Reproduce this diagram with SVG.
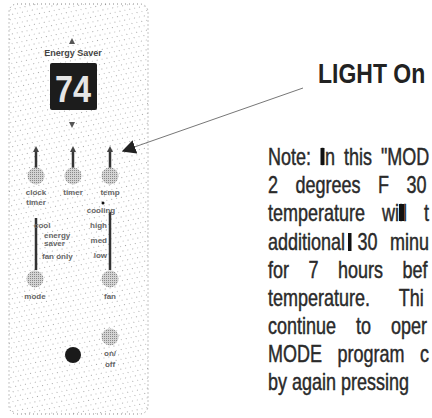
<svg xmlns="http://www.w3.org/2000/svg" width="432" height="418" viewBox="0 0 432 418">
<defs>
<pattern id="stip" width="8" height="6" patternUnits="userSpaceOnUse" patternTransform="rotate(25)">
<rect x="1" y="1" width="1" height="1" fill="#a8a8a8"/>
<rect x="5" y="4" width="1" height="1" fill="#c0c0c0"/>
</pattern>
<pattern id="btn" width="2" height="2" patternUnits="userSpaceOnUse">
<rect width="2" height="2" fill="#d4d4d4"/>
<rect width="1" height="1" fill="#8a8a8a"/>
</pattern>
<marker id="ah" viewBox="0 0 10 10" refX="9" refY="5" markerWidth="14" markerHeight="14" markerUnits="userSpaceOnUse" orient="auto">
<path d="M0,0 L10,5 L0,10 z" fill="#222"/>
</marker>
</defs>
<style>
.lbl{font-family:"Liberation Sans",Arial,sans-serif;font-weight:bold;font-size:8px;fill:#666;text-anchor:middle}
.stem{stroke:#333;stroke-width:2.5}
.btn{fill:url(#btn)}
.note{font-family:"Liberation Sans",Arial,sans-serif;font-size:18px;fill:#2a2a2a;stroke:#2a2a2a;stroke-width:0.35}
.bar{fill:#111}
</style>
<rect width="432" height="418" fill="#fff"/>
<g id="panel">
<rect x="9" y="4" width="139" height="410" rx="8" fill="url(#stip)" stroke="#888" stroke-width="1" stroke-dasharray="1 3"/>
<path d="M69,44 L72,38 L75,44 z" fill="#555"/>
<text class="lbl" x="73" y="56" style="font-size:9px;fill:#444">Energy Saver</text>
<rect x="50" y="63" width="47" height="47" rx="2" fill="#1c1c1c"/>
<text x="73" y="102" text-anchor="middle" font-family="Liberation Sans,Arial,sans-serif" font-weight="bold" font-size="36" fill="#e6e6e6" textLength="36" lengthAdjust="spacingAndGlyphs">74</text>
<path d="M69,122 L72,128 L75,122 z" fill="#555"/>
</g>
<g id="btn-clock">
<line class="stem" x1="36" y1="152" x2="36" y2="168"/>
<path d="M33,152 L36,146 L39,152 z" fill="#444"/>
<circle class="btn" cx="36" cy="176" r="8.5"/>
<text class="lbl" x="36" y="195">clock</text>
<text class="lbl" x="36" y="205">timer</text>
</g>
<g id="btn-timer">
<line class="stem" x1="73" y1="152" x2="73" y2="168"/>
<path d="M70,152 L73,146 L76,152 z" fill="#444"/>
<circle class="btn" cx="73" cy="176" r="8.5"/>
<text class="lbl" x="73" y="195">timer</text>
</g>
<g id="btn-temp">
<line class="stem" x1="110" y1="152" x2="110" y2="168"/>
<path d="M107,152 L110,146 L113,152 z" fill="#444"/>
<circle class="btn" cx="110" cy="176" r="8.5"/>
<text class="lbl" x="110" y="195">temp</text>
</g>
<g id="btn-mode">
<line class="stem" x1="36" y1="218" x2="36" y2="270"/>
<circle cx="103" cy="203" r="1.5" fill="#111"/>
<text class="lbl" x="34" y="228" style="text-anchor:start">cool</text>
<text class="lbl" x="44" y="238" style="text-anchor:start">energy</text>
<text class="lbl" x="44" y="246" style="text-anchor:start">saver</text>
<text class="lbl" x="42" y="259" style="text-anchor:start">fan only</text>
<circle class="btn" cx="35" cy="279" r="8.5"/>
<text class="lbl" x="35" y="299">mode</text>
</g>
<g id="btn-fan">
<line class="stem" x1="110" y1="212" x2="110" y2="270"/>
<text class="lbl" x="101" y="213">cooling</text>
<text class="lbl" x="107" y="228" style="text-anchor:end">high</text>
<text class="lbl" x="107" y="243" style="text-anchor:end">med</text>
<text class="lbl" x="107" y="258" style="text-anchor:end">low</text>
<circle class="btn" cx="110" cy="279" r="8.5"/>
<text class="lbl" x="110" y="299">fan</text>
</g>
<g id="btn-onoff">
<circle cx="73" cy="355" r="8" fill="#1a1a1a"/>
<circle class="btn" cx="110" cy="337" r="8.5"/>
<text class="lbl" x="110" y="356">on/</text>
<text class="lbl" x="110" y="367">off</text>
</g>
<g id="connectors">
<line x1="303" y1="88" x2="123" y2="151" stroke="#777" stroke-width="1" marker-end="url(#ah)"/>
</g>
<g id="callout">
<text transform="translate(318,83) scale(1,1.2)" font-family="Liberation Sans,Arial,sans-serif" font-weight="bold" font-size="23" fill="#222">LIGHT On</text>
</g>
<g id="note">
<text class="note" transform="translate(268,165) scale(1,1.3)" word-spacing="4">Note: In this "MOD</text>
<rect class="bar" x="320.5" y="148" width="4" height="17"/>
<text class="note" transform="translate(268,193) scale(1,1.3)" word-spacing="12.5">2 degrees F 30</text>
<text class="note" transform="translate(268,221) scale(1,1.3)" word-spacing="12">temperature will t</text>
<rect class="bar" x="399" y="204" width="5" height="17"/>
<text class="note" transform="translate(268,250) scale(1,1.3)" word-spacing="7.5">additional 30 minu</text>
<rect class="bar" x="348" y="233" width="3.5" height="18"/>
<text class="note" transform="translate(268,278) scale(1,1.3)" word-spacing="14.5">for 7 hours bef</text>
<text class="note" transform="translate(268,306) scale(1,1.3)" word-spacing="24">temperature. Thi</text>
<text class="note" transform="translate(268,334) scale(1,1.3)" word-spacing="15">continue to oper</text>
<text class="note" transform="translate(268,362) scale(1,1.3)" word-spacing="10.5">MODE program c</text>
<text class="note" transform="translate(268,390) scale(1,1.3)">by again pressing</text>
</g>
</svg>
